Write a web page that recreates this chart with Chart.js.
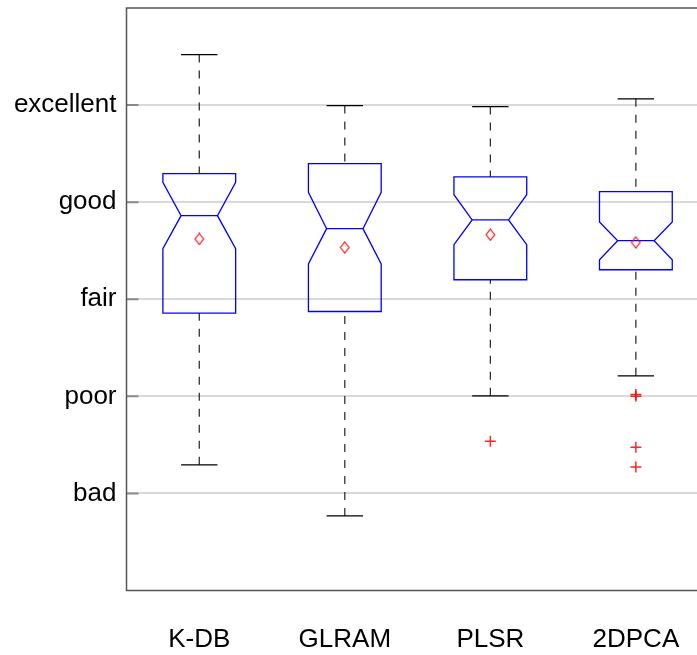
<!DOCTYPE html>
<html><head><meta charset="utf-8">
<script src="https://cdn.jsdelivr.net/npm/chart.js@4/dist/chart.umd.min.js"></script>
<style>html,body{margin:0;padding:0;background:#fff}canvas{display:block}</style>
</head><body>
<canvas id="c" width="697" height="655"></canvas>
<script>
// ---- data ----
const categories   = ['K-DB', 'GLRAM', 'PLSR', '2DPCA'];
const ratingLabels = ['bad', 'poor', 'fair', 'good', 'excellent'];
const ratingValues = [1, 2, 3, 4, 5];
const whiskerHigh  = [5.52, 4.995, 4.985, 5.064];
const q3           = [4.294, 4.397, 4.26, 4.108];
const notchHigh    = [4.204, 4.101, 4.077, 3.796];
const median       = [3.861, 3.727, 3.817, 3.603];
const notchLow     = [3.521, 3.363, 3.562, 3.407];
const q1           = [2.858, 2.874, 3.201, 3.304];
const whiskerLow   = [1.294, 0.768, 2.005, 2.211];
const means        = [3.621, 3.534, 3.665, 3.586];
const outliers     = [[], [], [1.538], [2.02, 2.0, 1.476, 1.273]];

const FONT = "'Liberation Sans', Arial, Helvetica, sans-serif";

// diamond marker for the means
const diamond = document.createElement('canvas');
diamond.width = 11; diamond.height = 13;
(function(){
  const g = diamond.getContext('2d');
  g.strokeStyle = '#ff0000'; g.lineWidth = 1.1;
  g.beginPath();
  g.moveTo(5.5, 1); g.lineTo(9.8, 6.5); g.lineTo(5.5, 12); g.lineTo(1.2, 6.5); g.closePath();
  g.stroke();
})();

const meanPoints = means.map((m, i) => ({x: i + 1, y: m}));
const outlierPoints = [];
outliers.forEach((arr, i) => arr.forEach(v => outlierPoints.push({x: i + 1, y: v})));

const boxPlugin = {
  id: 'notchedBoxes',
  beforeDatasetsDraw(chart) {
    const {ctx, scales: {x, y}} = chart;
    ctx.save();
    categories.forEach((c, i) => {
      const pos = i + 1;
      const cx = x.getPixelForValue(pos);
      const bl = x.getPixelForValue(pos - 0.25), br = x.getPixelForValue(pos + 0.25);
      const nl = x.getPixelForValue(pos - 0.125), nr = x.getPixelForValue(pos + 0.125);
      // dashed whiskers
      ctx.strokeStyle = '#222'; ctx.lineWidth = 1.2; ctx.setLineDash([8, 8]);
      ctx.beginPath();
      ctx.moveTo(cx, y.getPixelForValue(whiskerHigh[i])); ctx.lineTo(cx, y.getPixelForValue(q3[i]));
      ctx.moveTo(cx, y.getPixelForValue(whiskerLow[i])); ctx.lineTo(cx, y.getPixelForValue(q1[i]));
      ctx.stroke();
      ctx.setLineDash([]);
      // caps
      ctx.strokeStyle = '#000'; ctx.lineWidth = 1.2;
      ctx.beginPath();
      ctx.moveTo(nl, y.getPixelForValue(whiskerHigh[i])); ctx.lineTo(nr, y.getPixelForValue(whiskerHigh[i]));
      ctx.moveTo(nl, y.getPixelForValue(whiskerLow[i])); ctx.lineTo(nr, y.getPixelForValue(whiskerLow[i]));
      ctx.stroke();
      // notched box
      ctx.strokeStyle = '#0000ff'; ctx.lineWidth = 1.3;
      ctx.beginPath();
      ctx.moveTo(bl, y.getPixelForValue(q3[i]));
      ctx.lineTo(br, y.getPixelForValue(q3[i]));
      ctx.lineTo(br, y.getPixelForValue(notchHigh[i]));
      ctx.lineTo(nr, y.getPixelForValue(median[i]));
      ctx.lineTo(br, y.getPixelForValue(notchLow[i]));
      ctx.lineTo(br, y.getPixelForValue(q1[i]));
      ctx.lineTo(bl, y.getPixelForValue(q1[i]));
      ctx.lineTo(bl, y.getPixelForValue(notchLow[i]));
      ctx.lineTo(nl, y.getPixelForValue(median[i]));
      ctx.lineTo(bl, y.getPixelForValue(notchHigh[i]));
      ctx.closePath();
      ctx.moveTo(nl, y.getPixelForValue(median[i]));
      ctx.lineTo(nr, y.getPixelForValue(median[i]));
      ctx.stroke();
    });
    ctx.restore();
  },
  afterDraw(chart) {
    const {ctx, chartArea: a, scales: {y}} = chart;
    ctx.save();
    // inner tick marks
    ctx.strokeStyle = '#8a8a8a'; ctx.lineWidth = 2;
    ctx.beginPath();
    ratingValues.forEach(v => {
      const py = y.getPixelForValue(v);
      ctx.moveTo(a.left, py); ctx.lineTo(a.left + 12, py);
    });
    ctx.stroke();
    // frame (left, top, bottom)
    ctx.strokeStyle = '#555'; ctx.lineWidth = 1.5;
    ctx.beginPath();
    ctx.moveTo(a.right, a.top); ctx.lineTo(a.left, a.top);
    ctx.lineTo(a.left, a.bottom); ctx.lineTo(a.right, a.bottom);
    ctx.stroke();
    ctx.restore();
  }
};

new Chart(document.getElementById('c'), {
  type: 'scatter',
  data: {
    datasets: [
      {
        label: 'mean',
        data: meanPoints,
        pointStyle: diamond,
        pointRadius: 6,
        showLine: false
      },
      {
        label: 'outliers',
        data: outlierPoints,
        pointStyle: 'cross',
        pointRadius: 5.5,
        pointBorderWidth: 1.5,
        borderColor: 'rgba(255,0,0,0.85)',
        backgroundColor: 'rgba(0,0,0,0)',
        showLine: false
      }
    ]
  },
  options: {
    responsive: false,
    animation: false,
    layout: {autoPadding: false, padding: {top: 8, right: 0, left: 0, bottom: 0}},
    plugins: {legend: {display: false}, tooltip: {enabled: false}},
    scales: {
      x: {
        type: 'linear', min: 0.5, max: 4.42,
        afterBuildTicks: s => { s.ticks = categories.map((c, i) => ({value: i + 1})); },
        afterFit: s => { s.height = 64.5; s.paddingLeft = 0; s.paddingRight = 0; },
        ticks: {
          autoSkip: false, maxRotation: 0, padding: 34,
          callback: v => categories[v - 1] || '',
          font: {family: FONT, size: 26}, color: '#000'
        },
        grid: {display: false, drawTicks: false},
        border: {display: false}
      },
      y: {
        type: 'linear', min: 0, max: 6,
        afterBuildTicks: s => { s.ticks = ratingValues.map(v => ({value: v})); },
        afterFit: s => { s.width = 126.5; s.paddingTop = 0; s.paddingBottom = 0; },
        ticks: {
          padding: 10,
          callback: v => ratingLabels[v - 1] || '',
          font: {family: FONT, size: 26}, color: '#000'
        },
        grid: {color: '#d9d9d9', lineWidth: 2, drawTicks: false},
        border: {display: false}
      }
    }
  },
  plugins: [boxPlugin]
});
</script>
</body></html>
